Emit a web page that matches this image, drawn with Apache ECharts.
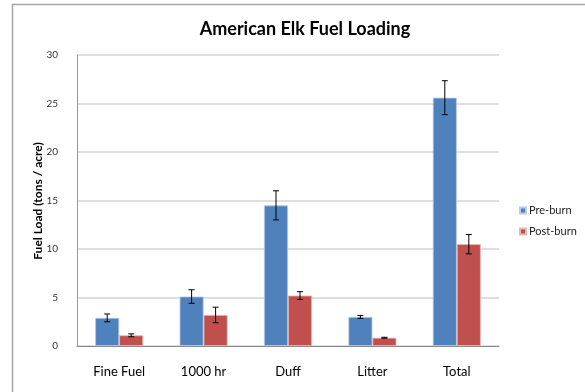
<!DOCTYPE html>
<html>
<head>
<meta charset="utf-8">
<script src="https://cdn.jsdelivr.net/npm/echarts@6/dist/echarts.min.js"></script>
<style>
  html, body { margin: 0; padding: 0; background: #fff; }
  #main { width: 585px; height: 392px; }
</style>
</head>
<body>
<div id="main"></div>
<script>
var categories = ['Fine Fuel', '1000 hr', 'Duff', 'Litter', 'Total'];
var preBurn = [2.9, 5.1, 14.5, 3.0, 25.6];
var postBurn = [1.1, 3.2, 5.2, 0.85, 10.5];
var preErr = [0.4, 0.7, 1.5, 0.15, 1.75];
var postErr = [0.15, 0.8, 0.4, 0.05, 1.0];
var yTicks = [0, 5, 10, 15, 20, 25, 30];
var yTitle = 'Fuel Load (tons / acre)';

var barWidth = 24;

// error bar drawn at an x offset from the category centre
function errorBars(vals, errs, offset) {
  var data = [];
  for (var i = 0; i < vals.length; i++) {
    data.push([i, vals[i] - errs[i], vals[i] + errs[i]]);
  }
  return {
    type: 'custom',
    z: 5,
    silent: true,
    data: data,
    renderItem: function (params, api) {
      var lo = api.coord([api.value(0), api.value(1)]);
      var hi = api.coord([api.value(0), api.value(2)]);
      var x = lo[0] + offset;
      var cap = 3;
      var style = { stroke: '#000', lineWidth: 1 };
      return {
        type: 'group',
        children: [
          { type: 'line', shape: { x1: x, y1: hi[1], x2: x, y2: lo[1] }, style: style },
          { type: 'line', shape: { x1: x - cap, y1: hi[1], x2: x + cap, y2: hi[1] }, style: style },
          { type: 'line', shape: { x1: x - cap, y1: lo[1], x2: x + cap, y2: lo[1] }, style: style }
        ]
      };
    }
  };
}

var chart = echarts.init(document.getElementById('main'));
var option = {
  animation: false,
  textStyle: { fontFamily: 'Lato' },
  graphic: [
    {
      type: 'rect',
      shape: { x: 12.5, y: 4.5, width: 600, height: 400 },
      style: { fill: 'none', stroke: '#a6a6a6', lineWidth: 1.5 },
      silent: true
    },
    {
      // y axis title
      type: 'text',
      x: 38,
      y: 201,
      rotation: Math.PI / 2,
      style: {
        text: yTitle,
        fontFamily: 'Lato',
        fontWeight: 'bold',
        fontSize: 12,
        fill: '#000',
        textAlign: 'center',
        textVerticalAlign: 'middle'
      },
      silent: true
    }
  ],
  title: {
    text: 'American Elk Fuel Loading',
    left: 300,
    textAlign: 'center',
    top: 15,
    textStyle: { fontFamily: 'Lato', fontWeight: 'bold', fontSize: 18, color: '#000' }
  },
  legend: {
    orient: 'vertical',
    left: 514,
    top: 200,
    itemWidth: 6,
    itemHeight: 6,
    itemGap: 10,
    icon: 'rect',
    data: ['Pre-burn', 'Post-burn'],
    textStyle: { fontSize: 11, color: '#222', padding: [0, 0, 0, -2] }
  },
  grid: { left: 77, right: 86, top: 55, bottom: 46 },
  xAxis: {
    type: 'category',
    data: categories,
    axisLine: { lineStyle: { color: '#888', width: 1 } },
    axisTick: { show: false },
    axisLabel: { fontSize: 13, color: '#000', margin: 19 }
  },
  yAxis: {
    type: 'value',
    min: 0,
    max: 30,
    interval: 5,
    axisLine: { show: true, lineStyle: { color: '#999' } },
    axisTick: { show: false },
    axisLabel: {
      fontSize: 10, color: '#333', margin: 19,
      formatter: function (v) { return yTicks.indexOf(v) >= 0 ? String(v) : ''; }
    },
    splitLine: { lineStyle: { color: '#d4d4d4', width: 1.5 } }
  },
  series: [
    {
      name: 'Pre-burn',
      type: 'bar',
      data: preBurn,
      barWidth: barWidth,
      barGap: '0%',
      itemStyle: { color: '#4F81BD', borderColor: '#b8cce4', borderWidth: 0.8 }
    },
    {
      name: 'Post-burn',
      type: 'bar',
      data: postBurn,
      barWidth: barWidth,
      barGap: '0%',
      itemStyle: { color: '#C0504D', borderColor: '#e6b9b8', borderWidth: 0.8 }
    },
    errorBars(preBurn, preErr, -barWidth / 2),
    errorBars(postBurn, postErr, barWidth / 2)
  ]
};
chart.setOption(option);
</script>
</body>
</html>
